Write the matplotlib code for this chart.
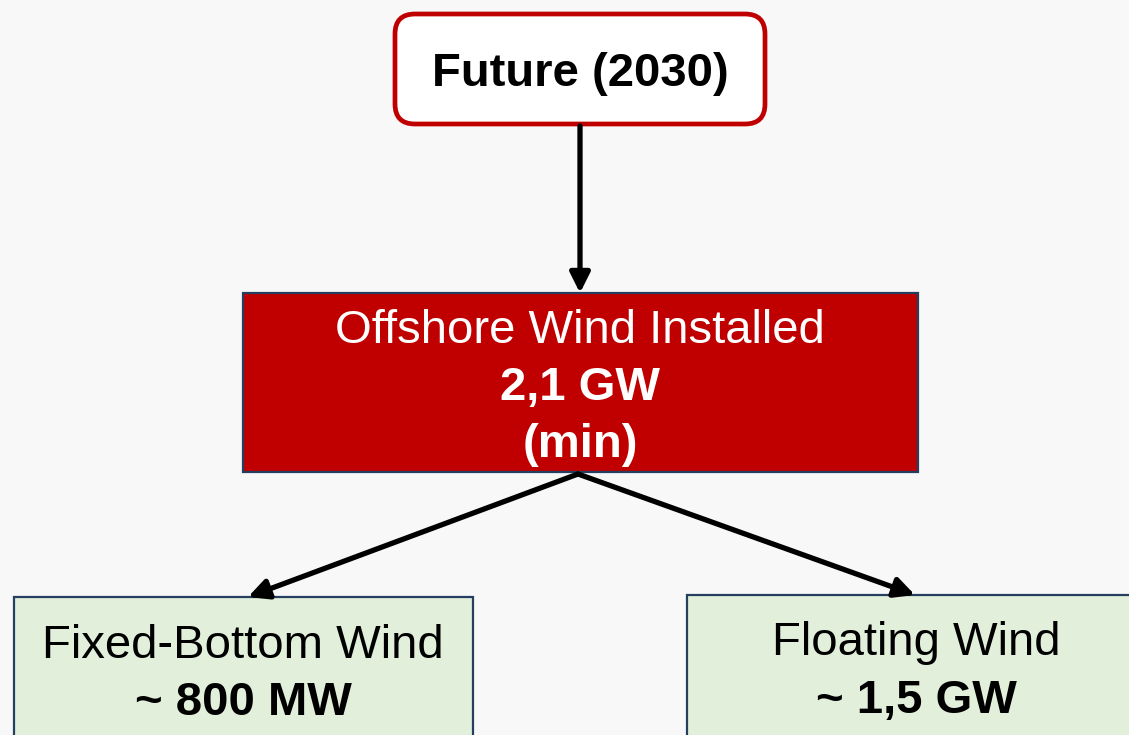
"""
Offshore wind 2030 target tree diagram
"""
import matplotlib.pyplot as plt
from matplotlib.patches import FancyBboxPatch, Rectangle, FancyArrowPatch

plt.rcParams['font.family'] = ['Liberation Sans', 'DejaVu Sans']

# =============================================================================
#     Data
# =============================================================================
top_label = 'Future (2030)'
mid_title = 'Offshore Wind Installed'
mid_value = '2,1 GW'
mid_note = '(min)'
child_titles = ['Fixed-Bottom Wind', 'Floating Wind']
child_values = ['~ 800 MW', '~ 1,5 GW']

# =============================================================================
#     Layout (pixel coordinates, y downwards)
# =============================================================================
W, H = 1129, 735
fig = plt.figure(figsize=(W / 100, H / 100), dpi=100)
fig.patch.set_facecolor('#F8F8F8')
ax = fig.add_axes([0, 0, 1, 1])
ax.set_xlim(0, W)
ax.set_ylim(H, 0)
ax.axis('off')

red = '#C00000'
navy = '#243F60'
green = '#E2EFDA'

# Top rounded box
ax.add_patch(FancyBboxPatch((395, 14), 370, 110,
                            boxstyle='round,pad=0,rounding_size=20',
                            facecolor='white', edgecolor=red, linewidth=3.4))
ax.text(580, 86, top_label, ha='center', va='baseline',
        fontsize=34, fontweight='bold', color='black')

# Middle box
ax.add_patch(Rectangle((243, 293), 675, 179,
                       facecolor=red, edgecolor=navy, linewidth=1.6))
ax.text(580, 343, mid_title, ha='center', va='baseline',
        fontsize=34, color='white')
ax.text(580, 400, mid_value, ha='center', va='baseline',
        fontsize=34, fontweight='bold', color='white')
ax.text(580, 457, mid_note, ha='center', va='baseline',
        fontsize=34, fontweight='bold', color='white')

# Bottom boxes
child_boxes = [(14, 597, 459, 243), (687, 595, 460, 916)]
child_baselines = [(658, 715), (655, 713)]
for (x0, y0, w, cx), (b1, b2), title, value in zip(
        child_boxes, child_baselines, child_titles, child_values):
    ax.add_patch(Rectangle((x0, y0), w, 200,
                           facecolor=green, edgecolor=navy, linewidth=1.6))
    ax.text(cx, b1, title, ha='center', va='baseline',
            fontsize=34, color='black')
    ax.text(cx, b2, value, ha='center', va='baseline',
            fontsize=34, fontweight='bold', color='black')

# Arrows
arrows = [((580, 126), (580, 293)),
          ((578, 474), (248, 597)),
          ((578, 474), (915, 595))]
for start, end in arrows:
    ax.add_patch(FancyArrowPatch(start, end, arrowstyle='-|>',
                                 mutation_scale=30, linewidth=3.8,
                                 color='black', shrinkA=0, shrinkB=0))

fig.savefig('out.png', dpi=100, facecolor=fig.get_facecolor())
